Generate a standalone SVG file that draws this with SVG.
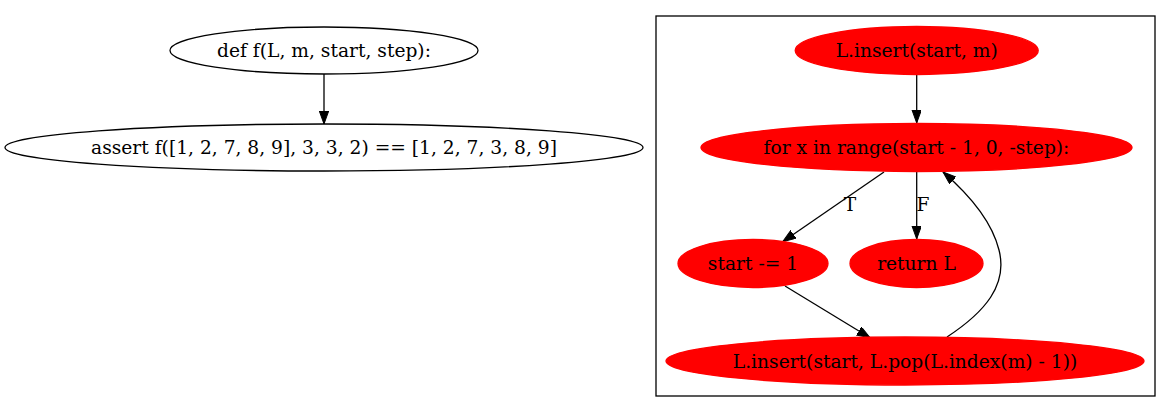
<svg xmlns="http://www.w3.org/2000/svg" width="1170" height="412" viewBox="0 0 1170 412">
<style>
text{font-family:"DejaVu Serif","Liberation Serif",serif;font-size:18.67px;text-anchor:middle;fill:#000}
.w{fill:#fff;stroke:#000;stroke-width:1.3}
.r{fill:#ff0000;stroke:#ff0000;stroke-width:1.3}
.e{fill:none;stroke:#000;stroke-width:1.3}
</style>
<defs>
<marker id="ah" markerUnits="userSpaceOnUse" markerWidth="14" markerHeight="10" refX="13" refY="4.7" orient="auto">
<path d="M0,0 L13,4.7 L0,9.4 z" fill="#000" stroke="#000" stroke-width="1"/>
</marker>
</defs>
<rect x="0" y="0" width="1170" height="412" fill="#fff"/>
<g id="cluster">
<rect x="656" y="16" width="499" height="380" fill="none" stroke="#000" stroke-width="1.3"/>
</g>
<g id="connectors">
<path class="e" d="M324,74 L324,124" marker-end="url(#ah)"/>
<path class="e" d="M916.7,75 L916.7,123" marker-end="url(#ah)"/>
<path class="e" d="M884,172 L782.7,241.7" marker-end="url(#ah)"/>
<text x="850" y="211">T</text>
<path class="e" d="M916.7,172 L916.7,239" marker-end="url(#ah)"/>
<text x="923" y="211">F</text>
<path class="e" d="M785,286 L870,337.7" marker-end="url(#ah)"/>
<path class="e" d="M947,337 C985,312 1008,285 999,250 C992,222 972,197 943,172" marker-end="url(#ah)"/>
</g>
<g id="node_def">
<ellipse class="w" cx="324" cy="50.5" rx="154" ry="23.5"/>
<text x="324" y="57">def f(L, m, start, step):</text>
</g>
<g id="node_assert">
<ellipse class="w" cx="324" cy="147.5" rx="319" ry="23.5"/>
<text x="324" y="154">assert f([1, 2, 7, 8, 9], 3, 3, 2) == [1, 2, 7, 3, 8, 9]</text>
</g>
<g id="node_insert_m">
<ellipse class="r" cx="916.7" cy="50.5" rx="121.5" ry="24"/>
<text x="916.7" y="57">L.insert(start, m)</text>
</g>
<g id="node_for">
<ellipse class="r" cx="916.5" cy="147.5" rx="215.5" ry="24"/>
<text x="916.5" y="154">for x in range(start - 1, 0, -step):</text>
</g>
<g id="node_start">
<ellipse class="r" cx="753" cy="263.5" rx="75" ry="24"/>
<text x="753" y="270">start -= 1</text>
</g>
<g id="node_return">
<ellipse class="r" cx="916.5" cy="263.5" rx="66.5" ry="24"/>
<text x="916.5" y="270">return L</text>
</g>
<g id="node_insert_pop">
<ellipse class="r" cx="905" cy="361" rx="239" ry="24"/>
<text x="905" y="367.5">L.insert(start, L.pop(L.index(m) - 1))</text>
</g>
</svg>
